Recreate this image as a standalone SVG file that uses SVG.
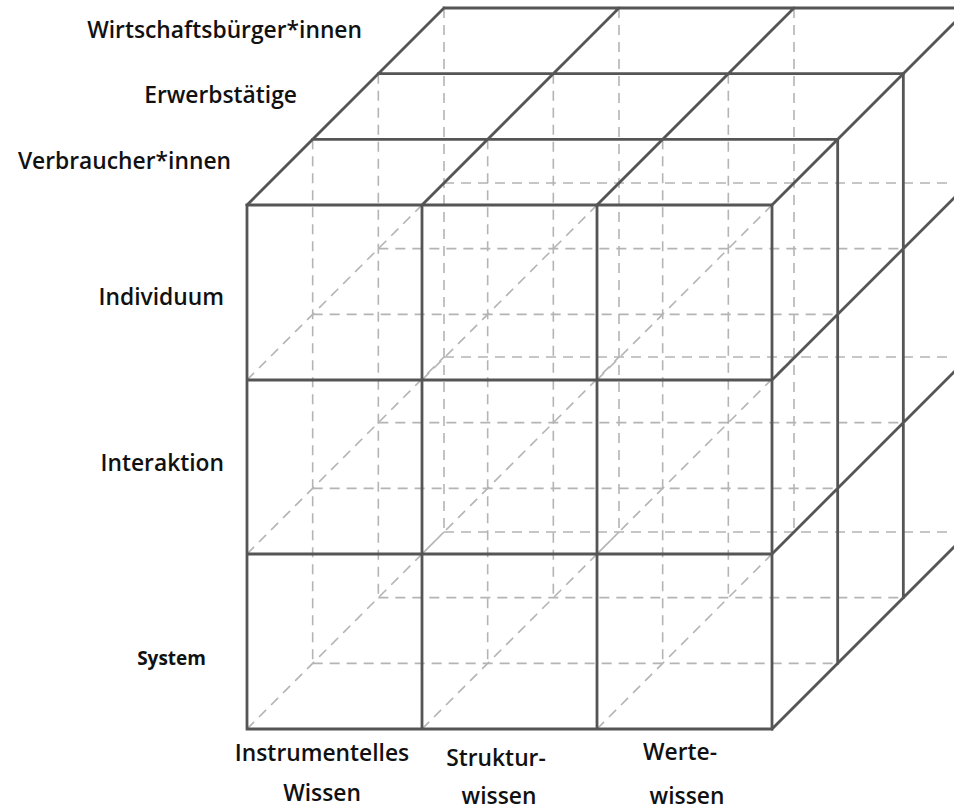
<svg xmlns="http://www.w3.org/2000/svg" width="954" height="811" viewBox="0 0 954 811">
  <style>
    .hidden { fill: none; stroke: #b4b4b4; stroke-width: 1.6; stroke-dasharray: 10 7; }
    .edge { fill: none; stroke: #555555; stroke-width: 2.8; stroke-linecap: square; }
    .lbl { font-family: "Open Sans", "Noto Sans", "Liberation Sans", sans-serif; font-weight: 600; font-size: 22.8px; fill: #111111; }
    .small { font-family: "Open Sans", "Noto Sans", "Liberation Sans", sans-serif; font-weight: 700; font-size: 19px; fill: #111111; }
  </style>
  <rect width="954" height="811" fill="#ffffff"/>

  <!-- 3x3x3 cube: front face 247..772 x 205..729, each depth layer shifts by (+65.67, -65.67) -->
  <g id="connectors">
    <!-- hidden grid lines inside the cube -->
    <g id="hidden-lines" class="hidden">
      <!-- horizontal (width) lines behind the front face -->
      <path d="M312.67 314.33H837.67 M312.67 488.33H837.67 M312.67 663.33H837.67
               M378.33 248.67H903.33 M378.33 422.67H903.33 M378.33 597.67H903.33
               M444 183H969 M444 357H969 M444 532H969"/>
      <!-- vertical (height) lines behind the front face -->
      <path d="M312.67 139.33V663.33 M487.67 139.33V663.33 M662.67 139.33V663.33
               M378.33 73.67V597.67 M553.33 73.67V597.67 M728.33 73.67V597.67
               M444 8V532 M619 8V532 M794 8V532"/>
      <!-- depth lines below the top face -->
      <path d="M247 380L444 183 M247 554L444 357 M247 729L444 532
               M422 380L619 183 M422 554L619 357 M422 729L619 532
               M597 380L794 183 M597 554L794 357 M597 729L794 532"/>
    </g>

    <!-- visible edges -->
    <g id="visible-edges" class="edge">
      <!-- front face -->
      <path d="M247 205H772 M247 380H772 M247 554H772 M247 729H772
               M247 205V729 M422 205V729 M597 205V729 M772 205V729"/>
      <!-- top face -->
      <path d="M312.67 139.33H837.67 M378.33 73.67H903.33 M444 8H969
               M247 205L444 8 M422 205L619 8 M597 205L794 8 M772 205L969 8"/>
      <!-- right face -->
      <path d="M837.67 139.33V663.33 M903.33 73.67V597.67 M969 8V532
               M772 380L969 183 M772 554L969 357 M772 729L969 532"/>
    </g>
  </g>

  <!-- depth axis labels -->
  <g id="depth-labels">
    <text id="wirtschaftsbuerger" class="lbl" x="362" y="38" text-anchor="end">Wirtschaftsbürger*innen</text>
    <text id="erwerbstaetige" class="lbl" x="297" y="103" text-anchor="end">Erwerbstätige</text>
    <text id="verbraucher" class="lbl" x="231" y="169" text-anchor="end">Verbraucher*innen</text>
  </g>

  <!-- row labels -->
  <g id="row-labels">
    <text id="individuum" class="lbl" x="224" y="305" text-anchor="end">Individuum</text>
    <text id="interaktion" class="lbl" x="224" y="471" text-anchor="end">Interaktion</text>
    <text id="system" class="small" x="206" y="665" text-anchor="end">System</text>
  </g>

  <!-- column labels -->
  <g id="column-labels">
    <g id="instrumentelles">
      <text class="lbl" x="322" y="761" text-anchor="middle">Instrumentelles</text>
      <text class="lbl" x="322" y="801" text-anchor="middle">Wissen</text>
    </g>
    <g id="strukturwissen">
      <text class="lbl" x="496" y="766" text-anchor="middle">Struktur-</text>
      <text class="lbl" x="499" y="804" text-anchor="middle">wissen</text>
    </g>
    <g id="wertewissen">
      <text class="lbl" x="680" y="760" text-anchor="middle">Werte-</text>
      <text class="lbl" x="687" y="804" text-anchor="middle">wissen</text>
    </g>
  </g>
</svg>
